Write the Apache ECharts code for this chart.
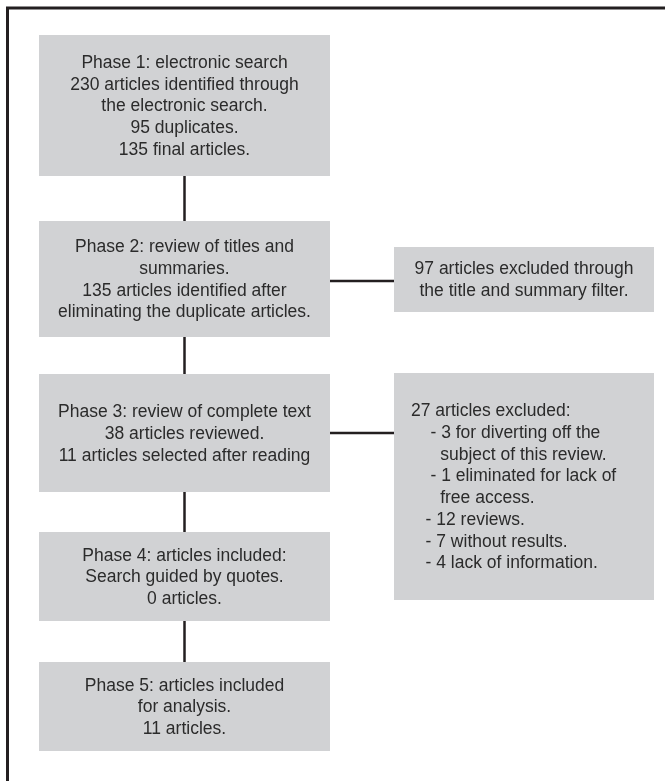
<!DOCTYPE html>
<html>
<head>
<meta charset="utf-8">
<script src="https://cdn.jsdelivr.net/npm/echarts@6/dist/echarts.min.js"></script>
<style>
html, body { margin: 0; padding: 0; background: #fff; }
#chart { width: 665px; height: 781px; }
</style>
</head>
<body>
<div id="chart"></div>
<script>
// phase boxes, top to bottom
var phaseTexts = [
    "Phase 1: electronic search\n230 articles identified through\nthe electronic search.\n95 duplicates.\n135 final articles.",
    "Phase 2: review of titles and\nsummaries.\n135 articles identified after\neliminating the duplicate articles.",
    "Phase 3: review of complete text\n38 articles reviewed.\n11 articles selected after reading",
    "Phase 4: articles included:\nSearch guided by quotes.\n0 articles.",
    "Phase 5: articles included\nfor analysis.\n11 articles."
];
// side boxes (excluded articles), which phase they hang from
var excludedPhase = [1, 2];
var excludedTexts = [
    "97 articles excluded through\nthe title and summary filter.",
    "27 articles excluded:\n    - 3 for diverting off the\n      subject of this review.\n    - 1 eliminated for lack of\n      free access.\n   - 12 reviews.\n   - 7 without results.\n   - 4 lack of information."
];

var boxFill = '#d1d2d4';
var lineColor = '#231f20';
var textColor = '#2b2b2b';
var font = '"Liberation Sans", Arial, sans-serif';
var fontSize = 17.5;
var lineH = 21.7;

// layout of the boxes
var mainX = 39, mainW = 291;
var mainY = [[35, 176], [221, 337], [374, 492], [532, 621], [662, 751]];
var sideX = 394, sideW = 260;
var sideY = [[247, 312], [373, 600]];
var linkY = [281, 433];
var sideAlign = ['center', 'left'];

var myChart = echarts.init(document.getElementById('chart'));
var elements = [];

// frame: top and left edges only
elements.push({
    type: 'polyline',
    shape: { points: [[7.5, 781], [7.5, 8], [665, 8]] },
    style: { stroke: lineColor, lineWidth: 3, fill: null }
});

// vertical connectors
for (var i = 0; i < mainY.length - 1; i++) {
    elements.push({
        type: 'line',
        shape: { x1: mainX + mainW / 2, y1: mainY[i][1], x2: mainX + mainW / 2, y2: mainY[i + 1][0] },
        style: { stroke: lineColor, lineWidth: 2.5 }
    });
}
// horizontal connectors
for (var i = 0; i < excludedTexts.length; i++) {
    elements.push({
        type: 'line',
        shape: { x1: mainX + mainW, y1: linkY[i], x2: sideX, y2: linkY[i] },
        style: { stroke: lineColor, lineWidth: 2.5 }
    });
}

function box(x, y0, y1, w, txt, align) {
    elements.push({
        type: 'rect',
        shape: { x: x, y: y0, width: w, height: y1 - y0 },
        style: { fill: boxFill }
    });
    elements.push({
        type: 'text',
        x: align === 'left' ? x + 17 : x + w / 2,
        y: (y0 + y1) / 2 + 1,
        style: {
            text: txt,
            fill: textColor,
            font: fontSize + 'px ' + font,
            lineHeight: lineH,
            align: align,
            verticalAlign: 'middle'
        }
    });
}

phaseTexts.forEach(function (t, i) {
    box(mainX, mainY[i][0], mainY[i][1], mainW, t, 'center');
});
excludedTexts.forEach(function (t, i) {
    box(sideX, sideY[i][0], sideY[i][1], sideW, t, sideAlign[i]);
});

myChart.setOption({
    animation: false,
    graphic: { elements: elements }
});
</script>
</body>
</html>
